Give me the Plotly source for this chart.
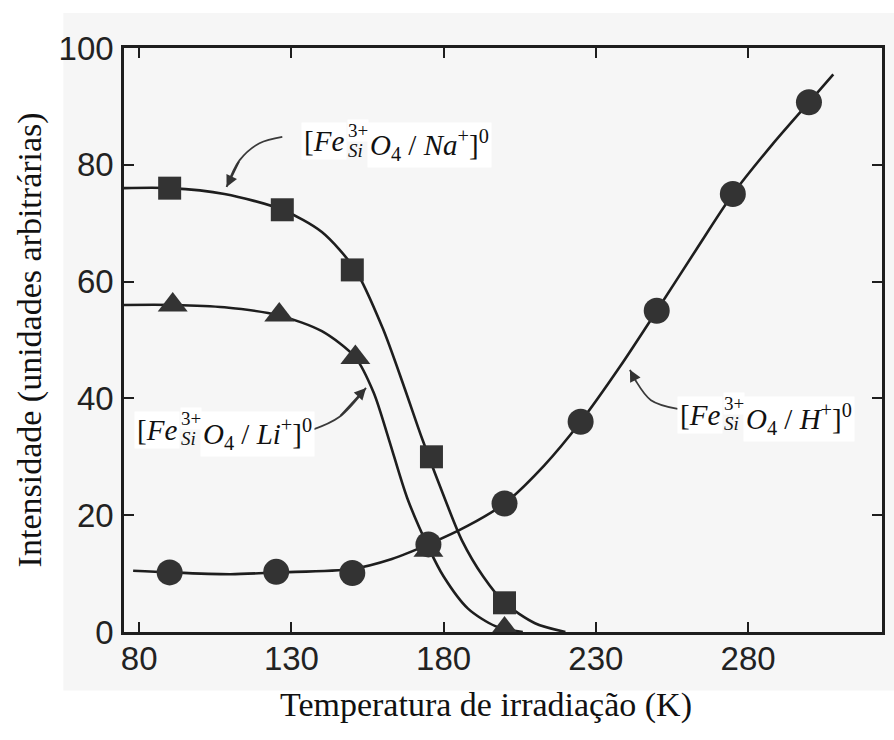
import plotly.graph_objects as go

# ---- data ----
na_x = [90, 127, 150, 176, 200]
na_y = [76, 72.3, 62, 30, 5]
li_x = [91, 126, 151, 175, 200]
li_y = [56, 54.3, 47, 14, 0.5]
h_x = [90, 125, 150, 175, 200, 225, 250, 275, 300]
h_y = [10.2, 10.3, 10.1, 15, 22, 36, 55, 75, 90.7]

# fitted curves (control points)
na_curve_x = [75, 90, 108, 127, 140, 151, 160, 167, 173, 181, 186, 193, 200, 210, 220]
na_curve_y = [76, 76, 75, 72.3, 68.5, 62, 52, 42, 33, 22, 15.7, 9.5, 5, 1.5, 0]
li_curve_x = [75, 91, 108, 126, 140, 151, 157, 162, 168, 175, 180, 188, 197, 206]
li_curve_y = [56, 56, 55.6, 54.2, 51.5, 47, 41, 33, 23, 14.5, 9.5, 4, 1, 0]
h_curve_x = [78, 90, 110, 125, 150, 163, 175, 188, 200, 213, 225, 238, 250, 263, 275, 288, 300, 308]
h_curve_y = [10.5, 10.2, 9.9, 10.2, 10.8, 12.5, 15, 18.2, 22, 28.5, 36, 45.5, 55, 65.5, 75, 83.5, 90.7, 95.5]

# curved pointer arrows (label -> curve)
na_arrow_x = [127.0, 119.5, 113.0, 108.7]
na_arrow_y = [84.8, 83.7, 80.8, 76.2]
li_arrow_x = [136.8, 145.7, 154.5]
li_arrow_y = [34.6, 36.8, 41.8]
h_arrow_x = [256.9, 248.1, 242.9, 241.2]
h_arrow_y = [38.2, 39.7, 43.2, 44.9]

x_ticks = [80, 130, 180, 230, 280]
y_ticks = [0, 20, 40, 60, 80, 100]

x_title = "Temperatura de irradiação (K)"
y_title = "Intensidade (unidades arbitrárias)"

LINE = "#1e1e1e"
MARK = "#333333"
SERIF = "Liberation Serif, Times New Roman, serif"
SANS = "Liberation Sans, Arial, sans-serif"

fig = go.Figure()
for cx, cy in [(na_curve_x, na_curve_y), (li_curve_x, li_curve_y), (h_curve_x, h_curve_y)]:
    fig.add_trace(go.Scatter(x=cx, y=cy, mode="lines",
                             line=dict(color=LINE, width=2.6, shape="spline", smoothing=0.8),
                             hoverinfo="skip", showlegend=False))

for axx, axy in [(na_arrow_x, na_arrow_y), (li_arrow_x, li_arrow_y), (h_arrow_x, h_arrow_y)]:
    fig.add_trace(go.Scatter(x=axx, y=axy, mode="lines",
                             line=dict(color="#3a3a3a", width=1.8, shape="spline", smoothing=1.0),
                             hoverinfo="skip", showlegend=False))

fig.add_trace(go.Scatter(x=na_x, y=na_y, mode="markers",
                         marker=dict(symbol="square", size=23, color=MARK), showlegend=False))
fig.add_trace(go.Scatter(x=li_x, y=li_y, mode="markers",
                         marker=dict(symbol="triangle-up", size=26, color=MARK), showlegend=False))
fig.add_trace(go.Scatter(x=h_x, y=h_y, mode="markers",
                         marker=dict(symbol="circle", size=26, color=MARK), showlegend=False))

annotations = []


def formula(x0, y0, ion):
    f = dict(family=SERIF, size=29, color="#111")
    small = dict(family=SERIF, size=19, color="#111")
    annotations.append(dict(x=x0, y=y0, xref="x", yref="y", text="[<i>Fe</i>", showarrow=False,
                            xanchor="right", yanchor="middle", font=f, bgcolor="white", borderpad=2))
    annotations.append(dict(x=x0, y=y0, xref="x", yref="y", text="<i>O</i><sub>4</sub> / <i>" + ion[0] +
                            "</i><sup>" + ion[1] + "</sup>]<sup>0</sup>", showarrow=False,
                            xanchor="left", yanchor="middle", xshift=20, yshift=-4, font=f,
                            bgcolor="white", borderpad=2))
    annotations.append(dict(x=x0, y=y0, xref="x", yref="y", text="3+", showarrow=False,
                            xanchor="left", yanchor="middle", yshift=11, font=small, bgcolor="white",
                            borderpad=0))
    annotations.append(dict(x=x0, y=y0, xref="x", yref="y", text="<i>Si</i>", showarrow=False,
                            xanchor="left", yanchor="middle", yshift=-9, font=small, borderpad=0))


formula(148.1, 84.0, ("Na", "+"))
formula(93.4, 34.6, ("Li", "+"))
formula(271.8, 37.2, ("H", "+"))


def arrowhead(xs, ys):
    annotations.append(dict(x=xs[-1], y=ys[-1], ax=xs[-2], ay=ys[-2], xref="x", yref="y",
                            axref="x", ayref="y", text="", showarrow=True, arrowhead=2,
                            arrowsize=1.3, arrowwidth=1.8, arrowcolor="#333"))


arrowhead(na_arrow_x, na_arrow_y)
arrowhead(li_arrow_x, li_arrow_y)
arrowhead(h_arrow_x, h_arrow_y)

annotations.append(dict(x=0.478, y=-0.125, xref="paper", yref="paper", text=x_title, showarrow=False,
                        xanchor="center", yanchor="middle", font=dict(family=SERIF, size=34, color="#111")))
annotations.append(dict(x=-0.1235, y=0.5, xref="paper", yref="paper", text=y_title, showarrow=False,
                        textangle=-90, xanchor="center", yanchor="middle",
                        font=dict(family=SERIF, size=34, color="#111")))

axis_common = dict(showgrid=False, zeroline=False, showline=True, linecolor=LINE, linewidth=2.5,
                   mirror="ticks", ticks="inside", ticklen=10, tickwidth=2, tickcolor=LINE,
                   tickfont=dict(family=SANS, size=33, color="#222"))

fig.update_layout(
    width=894, height=740,
    margin=dict(l=124, r=9, t=48, b=108),
    paper_bgcolor="white", plot_bgcolor="#f6f6f6",
    xaxis=dict(range=[75, 324], tickvals=x_ticks, ticklabelstandoff=-4, **axis_common),
    yaxis=dict(range=[0, 100], tickvals=y_ticks, ticklabelstandoff=1, **axis_common),
    annotations=annotations,
    shapes=[dict(type="rect", xref="paper", yref="paper", x0=-0.08, x1=1.02, y0=-0.10, y1=1.06,
                 fillcolor="#f6f6f6", line=dict(width=0), layer="below")],
)

fig.write_html("out.html")
